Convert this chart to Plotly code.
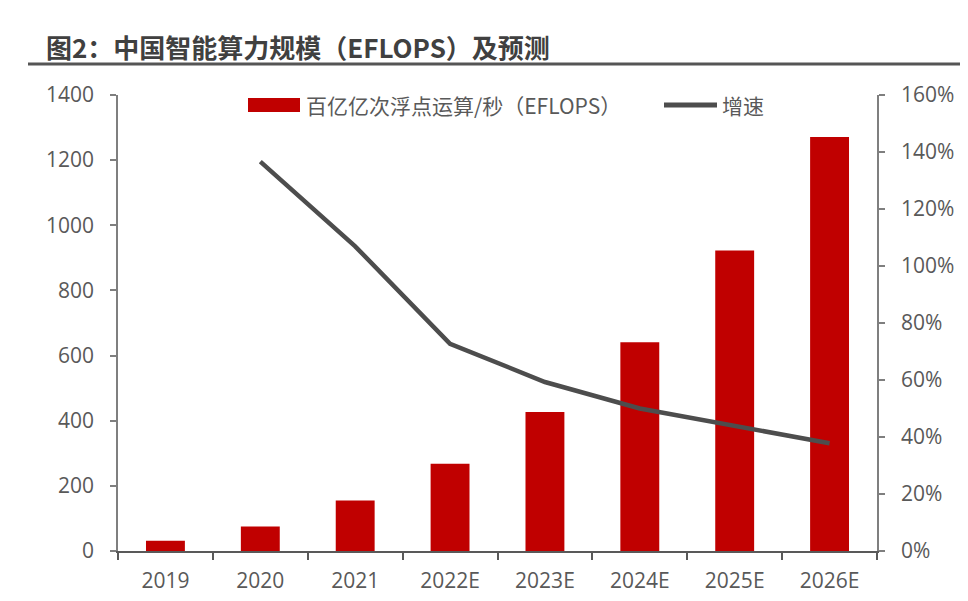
import plotly.graph_objects as go

# 中国智能算力规模（EFLOPS）及预测
years = ["2019", "2020", "2021", "2022E", "2023E", "2024E", "2025E", "2026E"]
eflops = [31.7, 75.0, 155.2, 268.0, 427.0, 640.7, 922.8, 1271.4]
growth = [None, 1.366, 1.069, 0.727, 0.593, 0.500, 0.440, 0.378]

left_ticks = [0, 200, 400, 600, 800, 1000, 1200, 1400]
right_ticks = [0, 0.2, 0.4, 0.6, 0.8, 1.0, 1.2, 1.4, 1.6]

bar_name = "百亿亿次浮点运算/秒（EFLOPS）"
line_name = "增速"

FONT = "Open Sans, Noto Sans CJK SC, sans-serif"
CJK = "Noto Sans CJK SC, sans-serif"
BAR_RED = "#c00000"
LINE_GRAY = "#4d4d4d"
TEXT_GRAY = "#595959"

# 页面有8px的边距，图尺寸相应缩小
W, H = 960, 593
L, R, T, B = 110, 91, 87, 50
PW, PH = W - L - R, H - T - B


def px_x(x):
    return (x - L) / PW


def px_y(y):
    return (H - B - y) / PH


fig = go.Figure()

fig.add_trace(go.Bar(
    x=years, y=eflops,
    name=bar_name,
    marker=dict(color=BAR_RED, line=dict(width=0)),
    showlegend=False,
))

fig.add_trace(go.Scatter(
    x=years, y=growth,
    name=line_name,
    mode="lines",
    line=dict(color=LINE_GRAY, width=4.5),
    yaxis="y2",
    showlegend=False,
))

fig.update_layout(
    width=W, height=H,
    margin=dict(l=L, r=R, t=T, b=B),
    plot_bgcolor="white",
    paper_bgcolor="white",
    font=dict(family=FONT, size=21, color=TEXT_GRAY),
    bargap=0.59,
    title=dict(
        text="<b>图2：中国智能算力规模（EFLOPS）及预测</b>",
        x=38 / W, xref="container", xanchor="left",
        y=1 - 40.5 / H, yref="container", yanchor="middle",
        font=dict(family=CJK, size=26, color="#404040"),
    ),
    xaxis=dict(
        showgrid=False,
        showline=True, linecolor="#595959", linewidth=1.5,
        ticks="outside", tickson="boundaries", ticklen=7,
        tickcolor="#595959", tickwidth=1.5,
        tickfont=dict(size=21, color=TEXT_GRAY),
        ticklabelstandoff=10,
        automargin=False,
    ),
    yaxis=dict(
        range=[0, 1400],
        tickvals=left_ticks,
        showgrid=False, zeroline=False,
        showline=True, linecolor="#7f7f7f", linewidth=1.5,
        ticks="outside", ticklen=6, tickcolor="#7f7f7f", tickwidth=1.5,
        tickfont=dict(size=21, color=TEXT_GRAY),
        ticklabelstandoff=12,
        automargin=False,
    ),
    yaxis2=dict(
        overlaying="y", side="right",
        range=[0, 1.6],
        tickvals=right_ticks,
        tickformat=".0%",
        showgrid=False, zeroline=False,
        showline=True, linecolor="#7f7f7f", linewidth=1.5,
        ticks="outside", ticklen=6, tickcolor="#7f7f7f", tickwidth=1.5,
        tickfont=dict(size=21, color=TEXT_GRAY),
        ticklabelstandoff=12,
        automargin=False,
    ),
)

# 标题下方的分隔线
fig.add_shape(
    type="line", xref="paper", yref="paper",
    x0=px_x(20), x1=px_x(W), y0=px_y(56), y1=px_y(56),
    line=dict(color="#555555", width=3),
)

# 图例（手工绘制，以匹配色块尺寸）
fig.add_shape(
    type="rect", xref="paper", yref="paper",
    x0=px_x(240), x1=px_x(292), y0=px_y(104), y1=px_y(90),
    fillcolor=BAR_RED, line=dict(width=0),
)
fig.add_annotation(
    text=bar_name, xref="paper", yref="paper",
    x=px_x(296), y=px_y(97), xanchor="left", yanchor="middle",
    showarrow=False, font=dict(family=CJK, size=21, color=TEXT_GRAY),
)
fig.add_shape(
    type="line", xref="paper", yref="paper",
    x0=px_x(656), x1=px_x(709), y0=px_y(97), y1=px_y(97),
    line=dict(color=LINE_GRAY, width=5),
)
fig.add_annotation(
    text=line_name, xref="paper", yref="paper",
    x=px_x(712), y=px_y(97), xanchor="left", yanchor="middle",
    showarrow=False, font=dict(family=CJK, size=21, color=TEXT_GRAY),
)

fig.write_html("out.html")
